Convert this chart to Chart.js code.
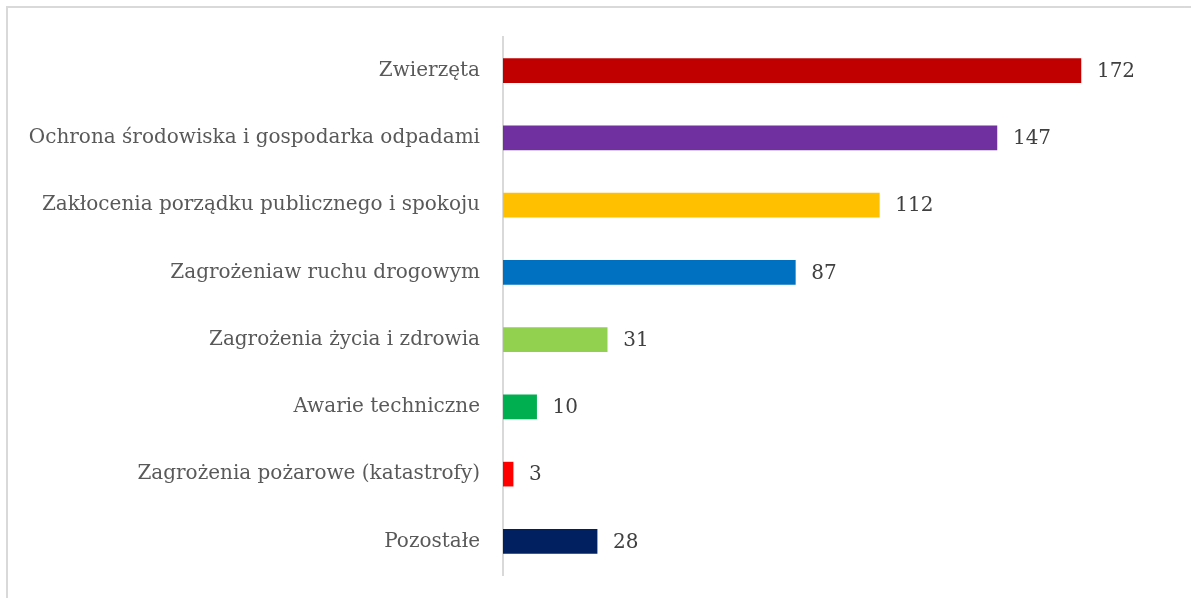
<!DOCTYPE html>
<html>
<head>
<meta charset="utf-8">
<script src="https://cdn.jsdelivr.net/npm/chart.js@4"></script>
<style>
  body { margin: 0; background: #fff; }
</style>
</head>
<body>
<canvas id="chart" width="1191" height="598"></canvas>
<script>
'use strict';
var categories = ['Zwierzęta', 'Ochrona środowiska i gospodarka odpadami', 'Zakłocenia porządku publicznego i spokoju', 'Zagrożeniaw ruchu drogowym', 'Zagrożenia życia i zdrowia', 'Awarie techniczne', 'Zagrożenia pożarowe (katastrofy)', 'Pozostałe'];
var values = [172, 147, 112, 87, 31, 10, 3, 28];
var barColors = ['#c00000', '#7030a0', '#ffc000', '#0070c0', '#92d050', '#00b050', '#ff0000', '#002060'];

var fontFamily = '"DejaVu Serif", serif';

// frame round the whole chart
var framePlugin = {
  id: 'frame',
  beforeDraw: function (chart) {
    var c = chart.ctx;
    c.save();
    c.fillStyle = '#fff';
    c.fillRect(0, 0, chart.width, chart.height);
    c.strokeStyle = '#d9d9d9';
    c.lineWidth = 2;
    c.strokeRect(7, 7, chart.width + 20, chart.height + 20);
    c.restore();
  }
};

// value labels right of each bar
var valueLabels = {
  id: 'valueLabels',
  afterDatasetsDraw: function (chart) {
    var c = chart.ctx;
    var meta = chart.getDatasetMeta(0);
    c.save();
    c.font = '20px ' + fontFamily;
    c.fillStyle = '#404040';
    c.textAlign = 'left';
    c.textBaseline = 'middle';
    meta.data.forEach(function (bar, i) {
      c.fillText(values[i], bar.x + 16, bar.y + 1);
    });
    c.restore();
  }
};

var ctx = document.getElementById('chart').getContext('2d');
var chart = new Chart(ctx, {
  type: 'bar',
  data: {
    labels: categories,
    datasets: [{
      data: values,
      backgroundColor: barColors,
      barThickness: 24
    }]
  },
  options: {
    indexAxis: 'y',
    responsive: false,
    animation: false,
    layout: { padding: { top: 37, bottom: 23, left: 0, right: 16 } },
    plugins: {
      legend: { display: false },
      tooltip: { enabled: false }
    },
    scales: {
      x: {
        display: false,
        min: 0,
        max: 200
      },
      y: {
        grid: { display: false },
        border: { display: true, color: '#d9d9d9', width: 2 },
        ticks: {
          color: '#595959',
          padding: 15,
          font: { family: fontFamily, size: 20 }
        },
        afterFit: function (scale) {
          scale.width = 503;
          scale.paddingTop = 0;
          scale.paddingBottom = 0;
        }
      }
    }
  },
  plugins: [framePlugin, valueLabels]
});
</script>
</body>
</html>
